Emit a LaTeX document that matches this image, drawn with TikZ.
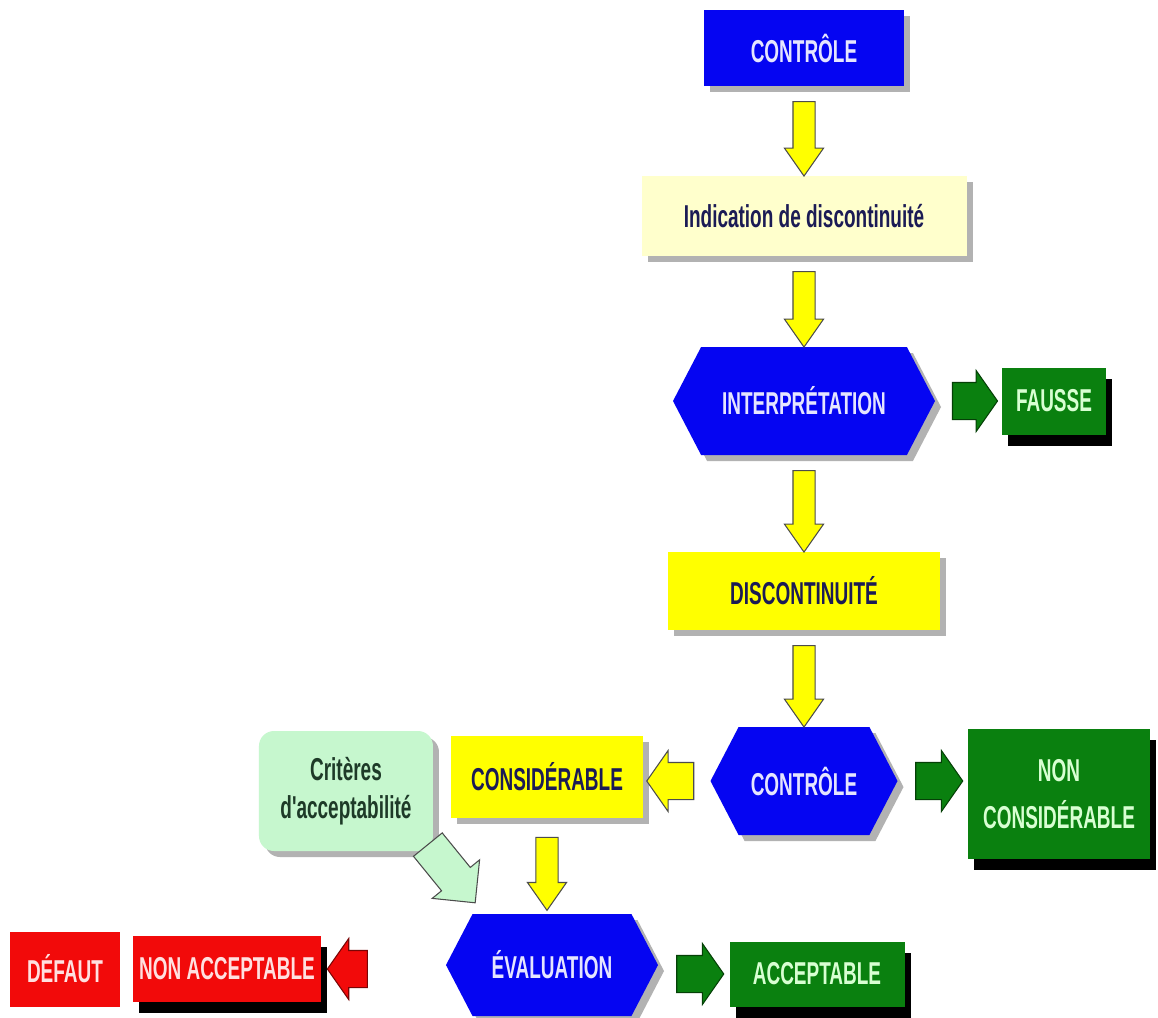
\documentclass[tikz,border=0pt]{standalone}
\usepackage{fontspec}
\newfontfamily\boxfont{Liberation Sans}[FakeStretch=0.6]
\usepackage{tikz}
\usetikzlibrary{calc, shapes.symbols, shapes.arrows, shadows}
\definecolor{ctlblue}{HTML}{0505F2}
\definecolor{paleyel}{HTML}{FFFFCC}
\definecolor{discyel}{HTML}{FFFF00}
\definecolor{okgreen}{HTML}{0A800F}
\definecolor{oktext}{HTML}{D8FFD2}
\definecolor{badred}{HTML}{F20A0A}
\definecolor{critgreen}{HTML}{C6F7CE}
\definecolor{critdark}{HTML}{1E3A28}
\definecolor{navy}{HTML}{1B1B55}
\newcommand{\labelfont}{\boxfont\bfseries\fontsize{18pt}{22pt}\selectfont}
\tikzstyle{box}         = [rectangle, align=center, inner sep=0pt, font=\labelfont]
\tikzstyle{grayshadow}  = [drop shadow={shadow xshift=.12cm, shadow yshift=-.12cm, fill=black!30, opacity=1}]
\tikzstyle{blackshadow} = [drop shadow={shadow xshift=.12cm, shadow yshift=-.22cm, fill=black, opacity=1}]
\tikzstyle{bluebox}     = [box, grayshadow, fill=ctlblue, text=white!90!blue]
\tikzstyle{hexa}        = [box, signal, signal to=east and west, signal pointer angle=125, grayshadow, fill=ctlblue, text=white!90!blue]
\tikzstyle{yelbox}      = [box, grayshadow, fill=discyel, text=navy]
\tikzstyle{greenbox}    = [box, blackshadow, fill=okgreen, text=oktext]
\tikzstyle{redbox}      = [box, fill=badred, text=white!88!red]
\tikzstyle{downarrow}   = [single arrow, draw=black!70, fill=discyel, line width=.6pt, inner xsep=0pt, inner ysep=.21cm, single arrow head extend=.17cm, single arrow tip angle=70]
\tikzstyle{sidearrow}   = [downarrow, inner ysep=.36cm, single arrow head extend=.24cm, single arrow tip angle=110]
\newcommand{\blockarrow}[3][]{%
  \path let \p1=(#2), \p2=(#3),
            \n1={atan2(\y2-\y1,\x2-\x1)},
            \n2={veclen(\x2-\x1,\y2-\y1)} in
    node [downarrow, minimum height=\n2-8.5pt, rotate=\n1, #1] at ($(\p1)!.5!(\p2)$) {};}

\begin{document}
\begin{tikzpicture}[node distance=3.8cm]
      \useasboundingbox[fill=white] (-16.08,.96) rectangle (7.08,-19.38);

      \node (ctl)   [bluebox, minimum width=4cm, minimum height=1.52cm] {CONTRÔLE};
      \node (ind)   [box, grayshadow, fill=paleyel, text=navy, minimum width=6.5cm, minimum height=1.6cm, below of=ctl, yshift=.44cm] {Indication de discontinuité};
      \node (int)   [hexa, minimum width=5.24cm, minimum height=2.16cm, below of=ind, yshift=.1cm] {INTERPRÉTATION};
      \node (fau)   [greenbox, minimum width=2.08cm, minimum height=1.34cm, right of=int, xshift=1.2cm] {FAUSSE};
      \node (dis)   [yelbox, minimum width=5.44cm, minimum height=1.56cm, below of=int] {DISCONTINUITÉ};
      \node (ctl2)  [hexa, minimum width=3.74cm, minimum height=2.16cm, below of=dis] {CONTRÔLE};
      \node (ncons) [greenbox, font=\labelfont\fontsize{18pt}{27pt}\selectfont, minimum width=3.64cm, minimum height=2.6cm, right of=ctl2, xshift=1.3cm, yshift=-.26cm] {NON\\CONSIDÉRABLE};
      \node (cons)  [yelbox, minimum width=3.84cm, minimum height=1.64cm, left of=ctl2, xshift=-1.34cm, yshift=.08cm] {CONSIDÉRABLE};
      \node (crit)  [box, grayshadow, rounded corners=.3cm, fill=critgreen, text=critdark, minimum width=3.48cm, minimum height=2.4cm, left of=cons, xshift=-.22cm, yshift=-.28cm] {Critères\\d'acceptabilité};
      \node (eval)  [hexa, minimum width=4.24cm, minimum height=2.04cm, below of=cons, xshift=.1cm, yshift=.04cm] {ÉVALUATION};
      \node (acc)   [greenbox, minimum width=3.5cm, minimum height=1.3cm, right of=eval, xshift=1.5cm, yshift=-.18cm] {ACCEPTABLE};
      \node (nacc)  [redbox, blackshadow, minimum width=3.76cm, minimum height=1.32cm, left of=eval, xshift=-2.7cm, yshift=-.08cm] {NON ACCEPTABLE};
      \node (def)   [redbox, minimum width=2.2cm, minimum height=1.5cm, left of=nacc, xshift=.56cm] {DÉFAUT};

      \coordinate (evaltop) at ($(eval.north)+(-1.88cm,.64cm)$);
      \coordinate (redtail) at ($(nacc.east)+(1.3cm,0)$);

      \blockarrow{ctl.south}{ind.north}
      \blockarrow{ind.south}{int.north}
      \blockarrow{int.south}{dis.north}
      \blockarrow{dis.south}{ctl2.north}
      \blockarrow[sidearrow, fill=okgreen, draw=okgreen!50!black, minimum height=.9cm]{int.east}{fau.west}
      \blockarrow[sidearrow, fill=okgreen, draw=okgreen!50!black, minimum height=.94cm]{ctl2.east}{ctl2.east -| ncons.west}
      \blockarrow[sidearrow, minimum height=.94cm]{ctl2.west}{ctl2.west -| cons.east}
      \blockarrow[minimum height=1.46cm]{cons.south}{cons.south |- eval.north}
      \blockarrow[sidearrow, fill=critgreen, single arrow tip angle=90, minimum height=1.5cm]{crit.south east}{evaltop}
      \blockarrow[sidearrow, fill=okgreen, draw=okgreen!50!black, minimum height=.94cm]{eval.east |- acc.west}{acc.west}
      \blockarrow[sidearrow, fill=badred, draw=badred!50!black, minimum height=.8cm]{redtail}{nacc.east}

\end{tikzpicture}
\end{document}
